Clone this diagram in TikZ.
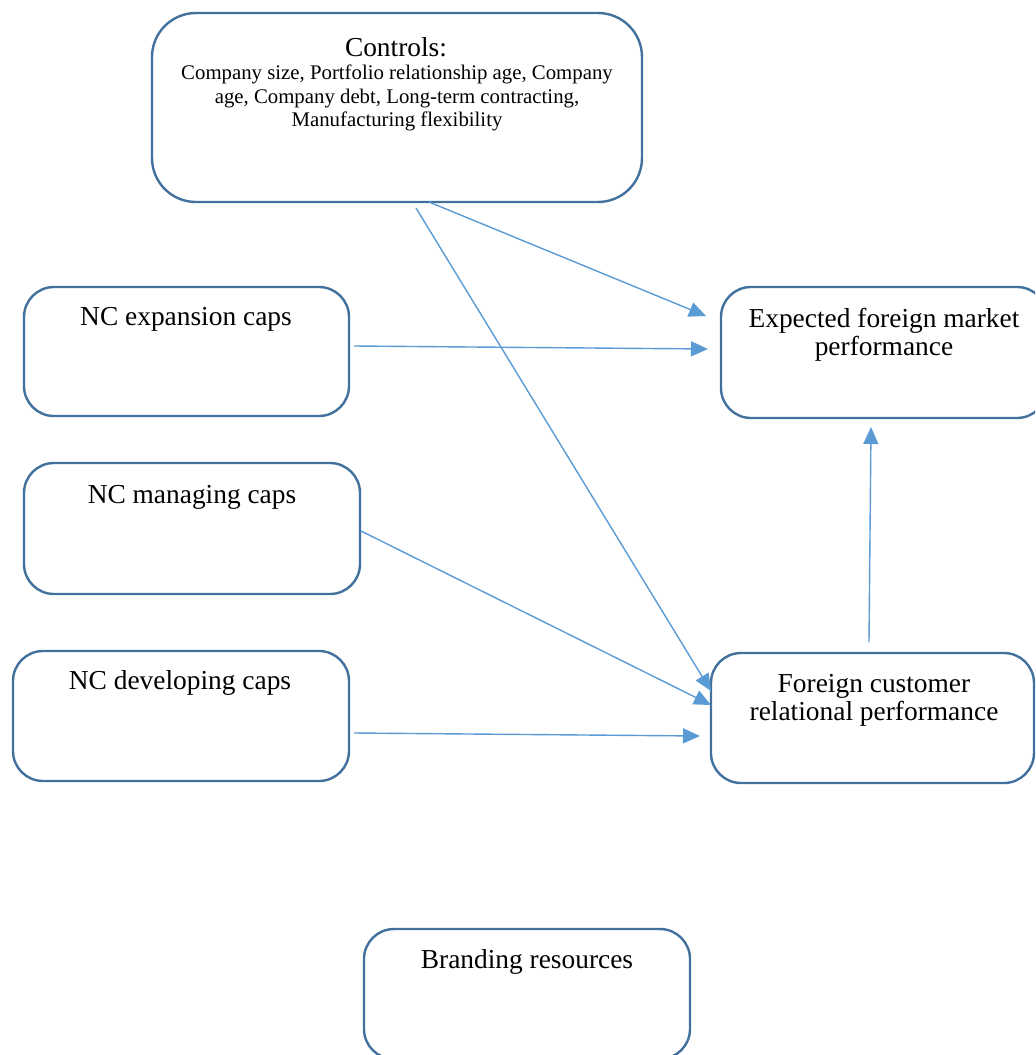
\documentclass[tikz,border=0pt]{standalone}
\usepackage{fontspec}
\setmainfont{Liberation Serif}
\usetikzlibrary{arrows.meta}
\definecolor{boxline}{HTML}{41719C}
\definecolor{arrowblue}{HTML}{5B9BD5}
\begin{document}
\begin{tikzpicture}[x=0.5pt,y=-0.5pt,
  box/.style={draw=boxline, line width=1.2pt, rounded corners=15pt, fill=white, inner sep=0pt},
  bigbox/.style={box, rounded corners=22pt},
  lbl/.style={align=center, inner sep=0pt, font=\fontsize{13.7}{14}\selectfont},
  small/.style={align=center, inner sep=0pt, font=\fontsize{10.4}{11.75}\selectfont},
  conn/.style={draw=arrowblue, line width=0.7pt, -{Triangle[length=8.5pt,width=7.5pt]}}]
\clip (0,0) rectangle (1035,1055);
\fill[white] (0,0) rectangle (1035,1055);

% boxes
\node[bigbox, minimum width=245pt, minimum height=94.5pt] (ctl) at (397,107.5) {};
\node[box, minimum width=162.5pt, minimum height=64.5pt] (exp) at (186.5,351.5) {};
\node[box, minimum width=168pt, minimum height=65.5pt] (man) at (192,528.5) {};
\node[box, minimum width=168pt, minimum height=65pt] (dev) at (181,716) {};
\node[box, minimum width=163pt, minimum height=65.5pt] (efm) at (884,352.5) {};
\node[box, minimum width=161.5pt, minimum height=65pt] (fcr) at (872.5,718) {};
\node[box, minimum width=163pt, minimum height=65pt] (brand) at (527,994) {};

% labels
\node[lbl] (ctl-t) at (396,47) {Controls:};
\node[small] (ctl-s) at (397,98) {Company size, Portfolio relationship age, Company\\age, Company debt, Long-term contracting,\\Manufacturing flexibility};
\node[lbl] (exp-t) at (186,319) {NC expansion caps};
\node[lbl] (man-t) at (192,497) {NC managing caps};
\node[lbl] (dev-t) at (180,683) {NC developing caps};
\node[lbl] (efm-t) at (884,335) {Expected foreign market\\performance};
\node[lbl] (fcr-t) at (874,700) {Foreign customer\\relational performance};
\node[lbl] (brand-t) at (527,962) {Branding resources};

% connector end points
\coordinate (c1s) at (429,202);
\coordinate (c1e) at (706,316);
\coordinate (c2s) at (416,208);
\coordinate (c2e) at (711,691);
\coordinate (c3s) at (354,346);
\coordinate (c3e) at (708,349);
\coordinate (c4s) at (361,531);
\coordinate (c4e) at (711,705);
\coordinate (c5s) at (354,733);
\coordinate (c5e) at (700,736);
\coordinate (c6s) at (869,642);
\coordinate (c6e) at (871,427);

% connectors
\draw[conn] (c1s) -- (c1e);
\draw[conn] (c2s) -- (c2e);
\draw[conn] (c3s) -- (c3e);
\draw[conn] (c4s) -- (c4e);
\draw[conn] (c5s) -- (c5e);
\draw[conn] (c6s) -- (c6e);
\end{tikzpicture}
\end{document}
